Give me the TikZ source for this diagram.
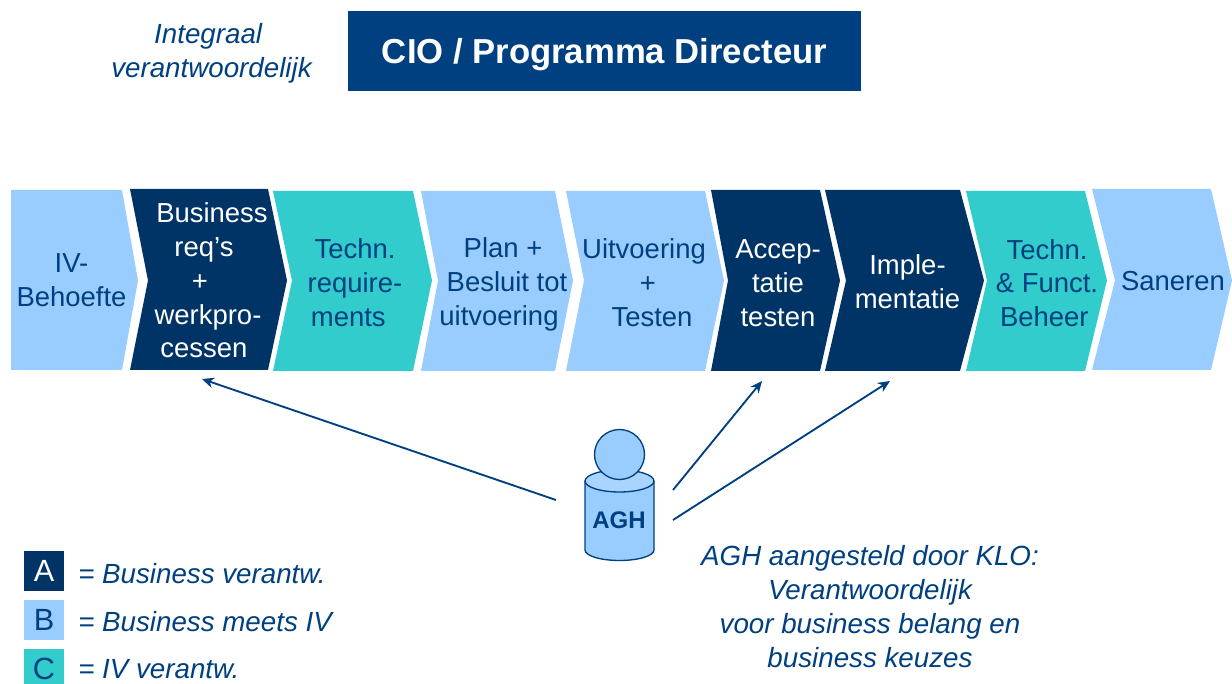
\documentclass[tikz,border=0pt]{standalone}
\usepackage{fontspec}
\setmainfont{Liberation Sans}
\usepackage{tikz}
\usetikzlibrary{arrows.meta}
\definecolor{navy}{HTML}{003366}
\definecolor{titleblue}{HTML}{004080}
\definecolor{paleblue}{HTML}{99CCFF}
\definecolor{teal}{HTML}{33CCCC}
\tikzset{
    every picture/.style={x=0.75pt, y=-0.75pt},
    stagetext/.style={align=center, font=\fontsize{20.6}{25.3}\selectfont, inner sep=0pt},
    note/.style={text=titleblue, align=center, font=\fontsize{20.8}{25.3}\selectfont\itshape, inner sep=0pt},
    legendbox/.style={minimum width=30pt, minimum height=30pt, inner sep=0pt, font=\fontsize{23}{24}\selectfont},
    pointer/.style={draw=titleblue, line width=1.4pt, -{Stealth[length=9pt, width=8pt]}},
}
% left, top right, tip, notch, top, bottom, colour
\newcommand{\stageshape}[7]{
    \fill[#7] (#1,#5) -- (#2,#5) -- (#3,280.5) -- (#2,#6) -- (#1,#6) -- (#4,280.5) -- cycle;
}
\begin{document}
\begin{tikzpicture}
    \useasboundingbox (0,0) rectangle (1232,684);
    % top
    \node[fill=titleblue, text=white, minimum width=384.75pt, minimum height=60pt, inner sep=0pt,
        text height=18.6pt, text depth=0pt,
        font=\fontsize{26}{28}\selectfont\bfseries] (cio) at (604.5,51.5) {CIO / Programma Directeur};
    \node[note] (integraal) at (211.5,53) {Integraal\kern5pt\\verantwoordelijk};

    % stages
    \stageshape{11}{122}{138}{11}{190}{370}{paleblue}
    \stageshape{130}{268}{287}{148}{189}{370}{navy}
    \stageshape{273}{413}{432}{292}{191}{371}{teal}
    \stageshape{421}{555}{573}{438}{191}{371}{paleblue}
    \stageshape{566}{705}{724}{584}{191}{371}{paleblue}
    \stageshape{711}{820}{840}{728}{190}{371}{navy}
    \stageshape{825}{960}{984}{846}{190}{371}{navy}
    \stageshape{966}{1085}{1107}{987}{191}{371}{teal}
    \stageshape{1092}{1211}{1232}{1115}{189}{370}{paleblue}

    \node[stagetext, text=titleblue] (behoefte) at (71.5,280.5) {IV-\\Behoefte};
    \node[stagetext, text=white] (business) at (204,280.5) {\kern12pt Business\\req’s\\+\kern6pt\\\kern6pt werkpro-\\cessen};
    \node[stagetext, text=titleblue] (techreq) at (355,282.5) {Techn.\\require-\\ments\kern10pt};
    \node[stagetext, text=titleblue] (plan) at (503,284.5) {Plan +\\\kern6pt Besluit tot\\uitvoering\kern6pt};
    \node[stagetext, text=titleblue] (uitvoering) at (644,282.5) {Uitvoering\\\kern6pt +\\\kern12pt Testen};
    \node[stagetext, text=white] (acceptatie) at (778,283) {Accep-\\tatie\\testen};
    \node[stagetext, text=white] (implementatie) at (907.5,282) {Imple-\\mentatie};
    \node[stagetext, text=titleblue] (beheer) at (1047,283) {Techn.\\\& Funct.\\Beheer\kern4pt};
    \node[stagetext, text=titleblue] (saneren) at (1173,281) {Saneren};

    % agh figure
    \draw[draw=titleblue, fill=paleblue, line width=1pt] (585,481) -- (585,550)
        arc[start angle=180, end angle=0, x radius=34.5, y radius=10.5] -- (654,481);
    \draw[draw=titleblue, fill=paleblue!85!white, line width=1pt] (619.5,481) ellipse[x radius=34.5, y radius=11];
    \node[draw=titleblue, fill=paleblue, circle, line width=1pt, minimum size=37.5pt, inner sep=0pt] (head) at (619.5,454.5) {};
    \node[text=titleblue, font=\fontsize{18}{20}\selectfont\bfseries, inner sep=0pt] (agh) at (619,520) {AGH};

    \coordinate (fromleft) at (556,500);
    \coordinate (frommid) at (673,490);
    \coordinate (fromright) at (673,520);
    \coordinate (tobusiness) at (202,379);
    \coordinate (toaccept) at (762,381);
    \coordinate (toimple) at (890,381);
    \draw[pointer] (fromleft) -- (tobusiness);
    \draw[pointer] (frommid) -- (toaccept);
    \draw[pointer] (fromright) -- (toimple);

    \node[note] (aghnote) at (870,606.5) {AGH aangesteld door KLO:\\Verantwoordelijk\\voor business belang en\\business keuzes};

    % legend
    \node[legendbox, fill=navy, text=white] (boxa) at (44,570.5) {A};
    \node[legendbox, fill=paleblue, text=titleblue] (boxb) at (44,620) {B};
    \begin{scope}
        \clip (0,640) rectangle (1232,684);
        \node[legendbox, fill=teal, text=titleblue] (boxc) at (44,669) {C};
    \end{scope}
    \node[note, anchor=west] (labela) at (78,573.5) {= Business verantw.};
    \node[note, anchor=west] (labelb) at (78,621.5) {= Business meets IV};
    \node[note, anchor=west] (labelc) at (78,669.5) {= IV verantw.};
\end{tikzpicture}
\end{document}
